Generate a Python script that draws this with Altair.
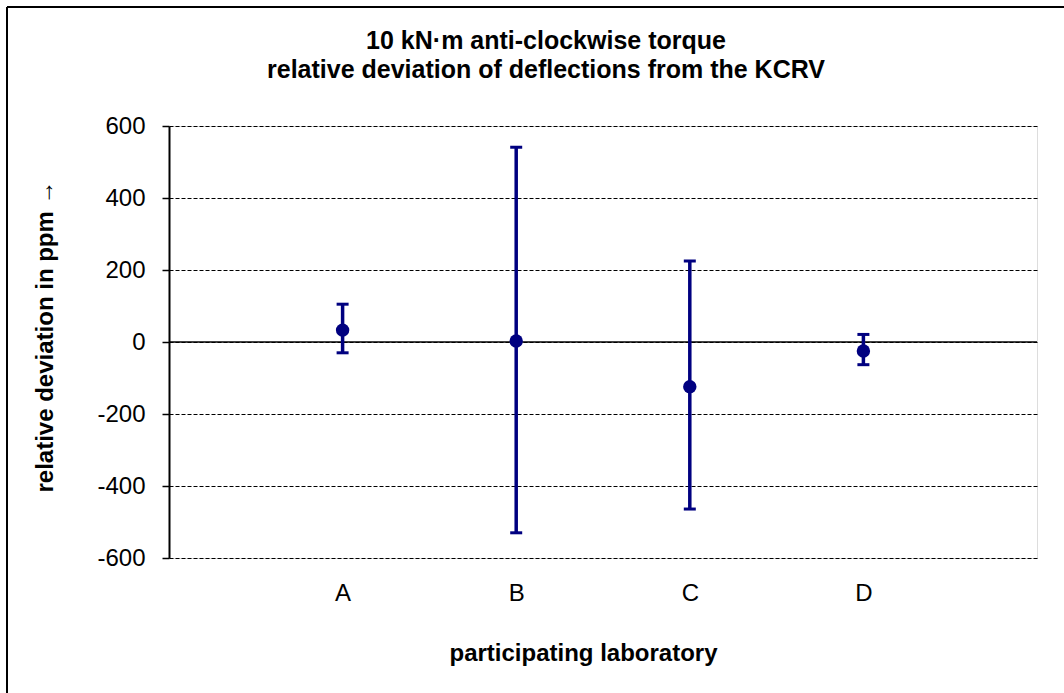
import altair as alt
import pandas as pd

labs = ["A", "B", "C", "D"]
pos = [1, 2, 3, 4]
value = [33, 3, -124, -25]
upper = [105, 541, 225, 21]
lower = [-30, -530, -464, -63]
y_ticks = [-600, -400, -200, 0, 200, 400, 600]

df = pd.DataFrame({"lab": labs, "pos": pos, "value": value, "upper": upper, "lower": lower})

FONT = "Liberation Sans"
NAVY = "#000080"

x_scale = alt.Scale(domain=[0, 5], nice=False, zero=False)
y_scale = alt.Scale(domain=[-600, 600], nice=False)

x_axis = alt.Axis(
    values=pos,
    labelExpr="['', 'A','B','C','D'][datum.value]",
    grid=False, ticks=False, domain=False,
    labelPadding=23, labelFontSize=24, labelFont=FONT, labelColor="black",
    title="participating laboratory", titleFont=FONT, titleFontSize=24,
    titleFontWeight="bold", titleColor="black",
    titleX=414, titleY=95, titleBaseline="middle", titleAlign="center",
)
y_axis = alt.Axis(
    values=y_ticks,
    labelExpr="datum.value + ''",
    grid=True, gridColor="black", gridDash=[4, 2], gridWidth=1,
    domain=True, domainColor="black", domainWidth=2,
    ticks=True, tickSize=7, tickColor="black", tickWidth=1.5,
    labelPadding=17, labelFontSize=24, labelFont=FONT, labelColor="black",
    title="relative deviation  in ppm →", titleFont="Liberation Sans, DejaVu Sans", titleFontSize=24,
    titleFontWeight="bold", titleColor="black", titleAngle=270,
    titleX=-124, titleY=210, titleAlign="center", titleBaseline="middle",
)

base = alt.Chart(df)

bars = base.mark_rule(color=NAVY, strokeWidth=3.5).encode(
    x=alt.X("pos:Q", scale=x_scale, axis=x_axis),
    y=alt.Y("lower:Q", scale=y_scale, axis=y_axis),
    y2="upper:Q",
)
cap_top = base.mark_tick(color=NAVY, size=12, thickness=3, orient="horizontal", opacity=1).encode(
    x=alt.X("pos:Q", scale=x_scale), y=alt.Y("upper:Q", scale=y_scale)
)
cap_bot = base.mark_tick(color=NAVY, size=12, thickness=3, orient="horizontal", opacity=1).encode(
    x=alt.X("pos:Q", scale=x_scale), y=alt.Y("lower:Q", scale=y_scale)
)
pts = base.mark_circle(color=NAVY, size=180, opacity=1).encode(
    x=alt.X("pos:Q", scale=x_scale), y=alt.Y("value:Q", scale=y_scale)
)
zero = alt.Chart(pd.DataFrame({"z": [0]})).mark_rule(color="black", strokeWidth=1.5).encode(
    y=alt.Y("z:Q", scale=y_scale)
)
frame_top = alt.Chart(pd.DataFrame({"a": [0]})).mark_rule(color="black", strokeWidth=2, clip=False).encode(
    x=alt.value(-162), x2=alt.value(900), y=alt.value(-119)
)
frame_left = alt.Chart(pd.DataFrame({"a": [0]})).mark_rule(color="black", strokeWidth=2, clip=False).encode(
    x=alt.value(-162), y=alt.value(-119), y2=alt.value(570)
)

chart = alt.layer(zero, bars, cap_top, cap_bot, pts, frame_top, frame_left).properties(
    width=868, height=432,
    title=alt.TitleParams(
        text=["10 kN·m anti-clockwise torque", "relative deviation of deflections from the KCRV"],
        font=FONT, fontSize=25, fontWeight="bold", color="black",
        lineHeight=29, anchor="middle", dx=-57, offset=-102, baseline="bottom",
    ),
    autosize=alt.AutoSizeParams(type="none"),
    padding={"left": 169, "top": 126, "right": 27, "bottom": 135},
).configure_view(stroke="#999999", strokeWidth=2).configure(background="white")

chart.save("out.html", embed_options={"renderer": "svg", "actions": False})
